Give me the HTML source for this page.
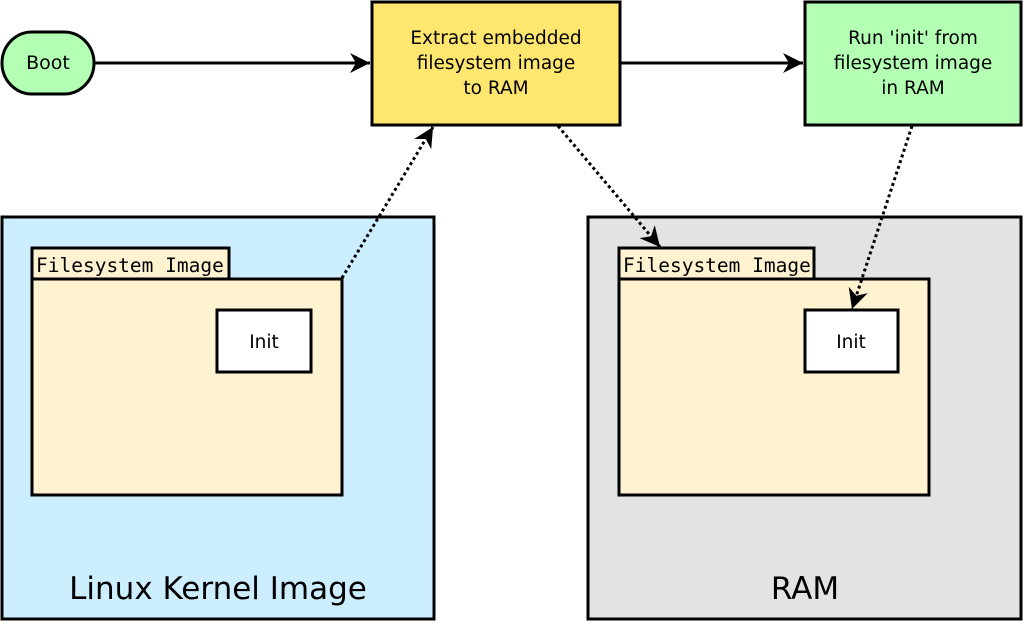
<!DOCTYPE html>
<html><head><style>body{margin:0;background:#fff}</style></head><body>
<svg width="1024" height="622" xmlns="http://www.w3.org/2000/svg" font-family="'DejaVu Sans','Liberation Sans',sans-serif">
<defs>
<marker id="b" viewBox="-20 -10 20 20" refX="0" refY="0" markerWidth="20" markerHeight="20" markerUnits="userSpaceOnUse" orient="auto" style="overflow:visible">
<path d="M0,0 L-20,-10 L-14,0 L-20,10 Z" fill="#000"/>
</marker>
</defs>
<rect x="2" y="217" width="432" height="402" fill="#cceeff" stroke="#000" stroke-width="3"/>
<rect x="588" y="217" width="433" height="402" fill="#e3e3e3" stroke="#000" stroke-width="3"/>
<rect x="32" y="248" width="197" height="31" fill="#fff2d0" stroke="#000" stroke-width="3"/>
<rect x="32" y="279" width="310" height="216" fill="#fff2d0" stroke="#000" stroke-width="3"/>
<rect x="619" y="248" width="195" height="31" fill="#fff2d0" stroke="#000" stroke-width="3"/>
<rect x="619" y="279" width="310" height="216" fill="#fff2d0" stroke="#000" stroke-width="3"/>
<rect x="217" y="310" width="94" height="62" fill="#fff" stroke="#000" stroke-width="3"/>
<rect x="805" y="310" width="93" height="62" fill="#fff" stroke="#000" stroke-width="3"/>
<text x="36" y="272" font-family="'DejaVu Sans Mono','Liberation Mono',monospace" font-size="19.5">Filesystem Image</text>
<text x="623" y="272" font-family="'DejaVu Sans Mono','Liberation Mono',monospace" font-size="19.5">Filesystem Image</text>
<text x="264" y="348" font-size="18.5" text-anchor="middle">Init</text>
<text x="851" y="348" font-size="18.5" text-anchor="middle">Init</text>
<text x="218" y="599" font-size="31" text-anchor="middle">Linux Kernel Image</text>
<text x="805" y="599" font-size="31" text-anchor="middle">RAM</text>
<path d="M32,32 H64 A30,31 0 0 1 64,94 H32 A30,31 0 0 1 32,32 Z" fill="#b3ffb3" stroke="#000" stroke-width="3"/>
<text x="48" y="69" font-size="19" text-anchor="middle">Boot</text>
<rect x="372" y="2" width="248" height="123" fill="#ffe66e" stroke="#000" stroke-width="3"/>
<text font-size="18.5" text-anchor="middle"><tspan x="496" y="44">Extract embedded</tspan><tspan x="496" y="69">filesystem image</tspan><tspan x="496" y="94">to RAM</tspan></text>
<rect x="805" y="2" width="216" height="123" fill="#b3ffb3" stroke="#000" stroke-width="3"/>
<text font-size="18.5" text-anchor="middle"><tspan x="913" y="44">Run 'init' from</tspan><tspan x="913" y="69">filesystem image</tspan><tspan x="913" y="94">in RAM</tspan></text>
<line x1="94" y1="63" x2="370" y2="63" stroke="#000" stroke-width="3" marker-end="url(#b)"/>
<line x1="620" y1="63" x2="803" y2="63" stroke="#000" stroke-width="3" marker-end="url(#b)"/>
<line x1="342" y1="278" x2="433" y2="127" stroke="#000" stroke-width="3" stroke-dasharray="3,3" marker-end="url(#b)"/>
<line x1="558" y1="126" x2="660" y2="247" stroke="#000" stroke-width="3" stroke-dasharray="3,3" marker-end="url(#b)"/>
<line x1="912" y1="126" x2="852" y2="309" stroke="#000" stroke-width="3" stroke-dasharray="3,3" marker-end="url(#b)"/>
</svg>
</body></html>
